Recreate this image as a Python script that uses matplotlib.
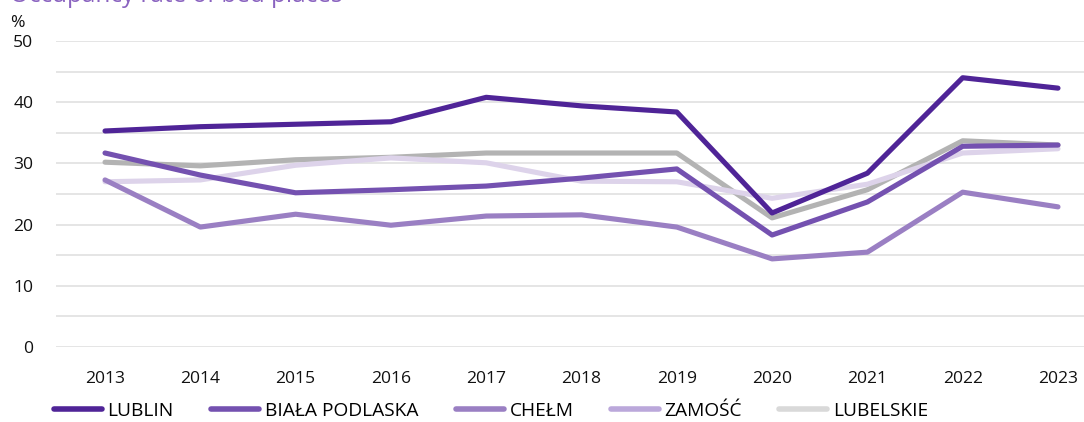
import matplotlib
matplotlib.use("Agg")
import matplotlib.pyplot as plt
from matplotlib.lines import Line2D

plt.rcParams['font.family'] = ['Open Sans', 'DejaVu Sans']

years = [2013, 2014, 2015, 2016, 2017, 2018, 2019, 2020, 2021, 2022, 2023]

lublin = [35.3, 36.0, 36.4, 36.8, 40.8, 39.4, 38.4, 21.9, 28.4, 44.0, 42.3]
biala_podlaska = [31.7, 28.1, 25.2, 25.7, 26.3, 27.6, 29.1, 18.3, 23.7, 32.8, 33.0]
chelm = [27.3, 19.6, 21.7, 19.9, 21.4, 21.6, 19.6, 14.4, 15.5, 25.3, 22.9]
zamosc = [27.0, 27.3, 29.7, 30.9, 30.1, 27.1, 27.0, 24.3, 26.6, 31.7, 32.4]
lubelskie = [30.2, 29.6, 30.6, 31.0, 31.7, 31.7, 31.7, 21.1, 25.7, 33.7, 33.0]

names = ['LUBLIN', 'BIAŁA PODLASKA', 'CHEŁM', 'ZAMOŚĆ', 'LUBELSKIE']
series = [lublin, biala_podlaska, chelm, zamosc, lubelskie]
line_colors = ['#4f2497', '#7451b0', '#9a7fc3', '#ddd3ea', '#b3b3b3']
legend_colors = ['#4f2497', '#7451b0', '#9a7fc3', '#bba8db', '#d9d9d9']
# draw order: grey region line behind the cities
order = [4, 3, 2, 1, 0]

fig = plt.figure(figsize=(10.84, 4.22), dpi=100)
ax = fig.add_axes([0.0517, 0.1777, 0.9483, 0.7251])

for i in order:
    ax.plot(years, series[i], color=line_colors[i], lw=3.7,
            solid_capstyle='round', solid_joinstyle='round', zorder=3)

ax.set_ylim(0, 50)
ax.set_xlim(2012.486, 2023.273)
ax.set_yticks(range(0, 51, 5))
ax.set_yticklabels([str(v) if v % 10 == 0 else '' for v in range(0, 51, 5)])
ax.set_xticks(years)
ax.grid(axis='y', color='#e0e0e0', lw=1.2, zorder=0)
for s in ax.spines.values():
    s.set_visible(False)
ax.tick_params(length=0, labelsize=12.6, colors='#111111')
ax.tick_params(axis='y', pad=16.5)
ax.tick_params(axis='x', pad=17)

fig.text(0.0092, 0.935, '%', fontsize=12.6, color='#111111')
fig.text(0.0092, 0.995, 'Occupancy rate of bed places', fontsize=17.5,
         color='#8a63c0', va='baseline')

handles = [Line2D([], [], color=legend_colors[i], lw=4, solid_capstyle='round')
           for i in range(5)]
fig.legend(handles, names, loc='center left', bbox_to_anchor=(0.0427, 0.026),
           ncol=5, frameon=False, fontsize=13.8, handlelength=2.5,
           handletextpad=0.3, columnspacing=1.95, borderaxespad=0)

fig.savefig('out.png', dpi=100)
